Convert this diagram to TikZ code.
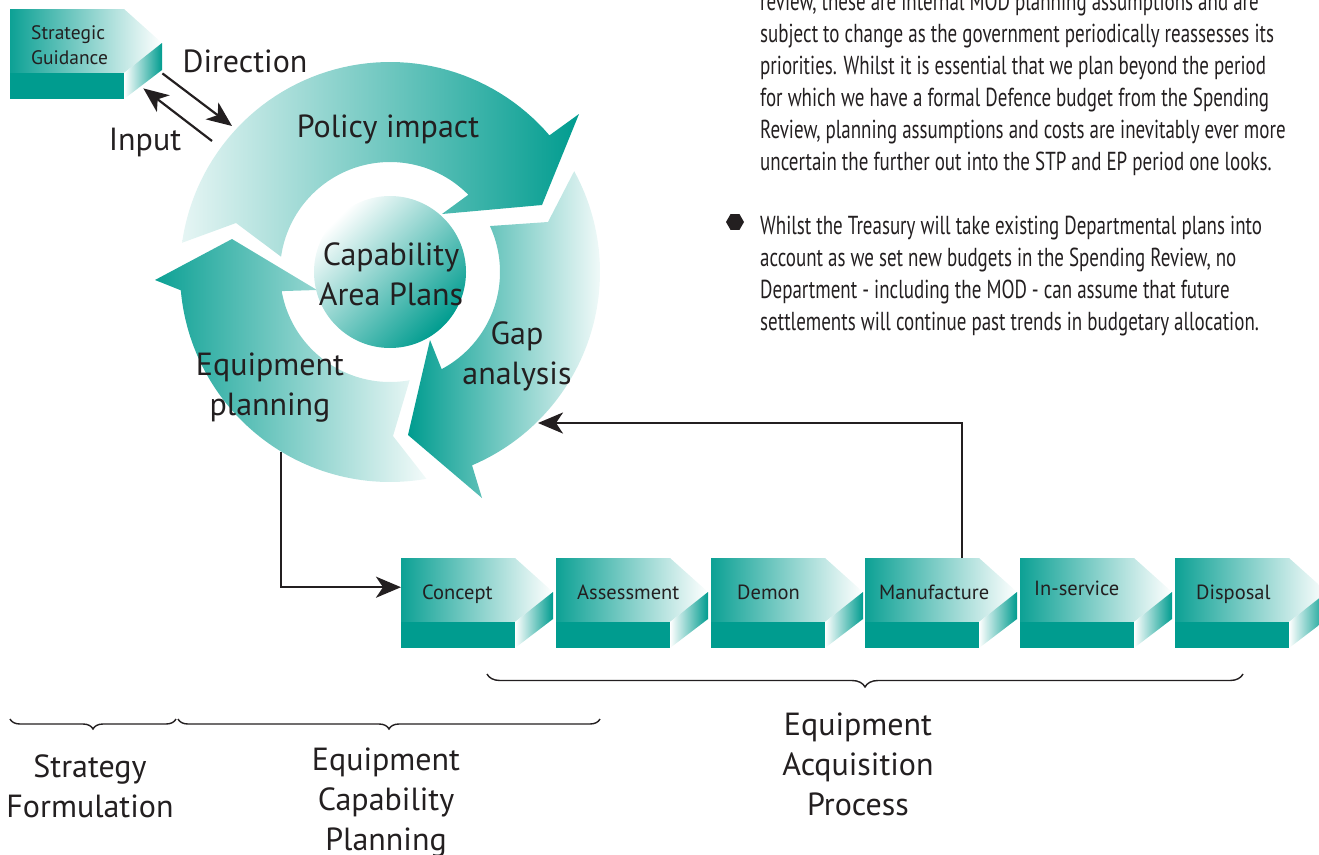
\documentclass[tikz,border=0pt]{standalone}
\usepackage{fontspec}
\setmainfont{PT Sans}
\newfontfamily\bodyfont[FakeStretch=0.73]{PT Sans}
\usetikzlibrary{arrows.meta, calc, shapes.geometric, decorations.pathreplacing}

\definecolor{modteal}{RGB}{0,156,143}
\definecolor{inkgrey}{RGB}{35,31,32}

\tikzset{
  flow/.style={line width=2.4pt, draw=inkgrey, -{Stealth[length=25pt,width=21pt,inset=7pt]}},
  biglabel/.style={font=\fontsize{32}{40}\selectfont, align=center, text=inkgrey, inner sep=0pt},
  stagelabel/.style={font=\fontsize{20.5}{24}\selectfont, anchor=base west, text=inkgrey, inner sep=0pt},
  bodytext/.style={font=\bodyfont\fontsize{26}{32}\selectfont, align=left, text=inkgrey, inner sep=0pt, anchor=base west},
  bracket/.style={draw=inkgrey, line width=1.4pt, decorate, decoration={brace, mirror, amplitude=#1}},
}

% chevron box: name, x, y of top left corner
\newcommand{\chevbox}[3]{%
  \shade[left color=modteal!95, right color=white] (#2,#3) -- ++(114,0) -- ++(38,34) -- ++(-38,30) -- ++(-114,0) -- cycle;
  \fill[modteal] (#2,#3+64) rectangle ++(114,26);
  \shade[left color=white, right color=modteal] (#2+114,#3+64) -- ++(38,-30) -- ++(0,27) -- ++(-38,29) -- cycle;
  \node[minimum width=152pt, minimum height=90pt, anchor=north west, inner sep=0pt] (#1) at (#2,#3) {};
}

\begin{document}
\begin{tikzpicture}[x=1pt, y=-1pt]
    \clip (0,0) rectangle (1319,854);

    % Policy impact arrow
    \shade[left color=modteal!10, right color=modteal]
      plot[domain=-172:-40.6, samples=60] ({390+210*cos(\x)},{272+210*sin(\x)})
      -- (579,114) -- (542,205) -- (442,214)
      -- plot[domain=-44.6:-172, samples=60] ({390+110*cos(\x)},{272+110*sin(\x)})
      -- (236,223) -- cycle;

    % Gap analysis arrow
    \shade[left color=modteal, right color=modteal!6]
      plot[domain=-28.7:67, samples=60] ({390+210*cos(\x)},{272+210*sin(\x)})
      -- (482,498) -- (408,435) -- (430,340)
      -- plot[domain=62:-24.7, samples=60] ({390+110*cos(\x)},{272+110*sin(\x)})
      -- (548,222) -- cycle;

    % Equipment planning arrow
    \shade[left color=modteal!95, right color=modteal!5]
      plot[domain=80:175, samples=60] ({390+210*cos(\x)},{272+210*sin(\x)})
      -- (155,280) -- (232,239) -- (317,290)
      -- plot[domain=170:79.7, samples=60] ({390+110*cos(\x)},{272+110*sin(\x)})
      -- (393,436) -- cycle;

    % Centre disc
    \shade[top color=white, bottom color=modteal, shading angle=45] (390,272) circle[radius=76];

    % Ring labels
    \node[biglabel] (cap) at (391,274) {Capability\\Area Plans};
    \node[biglabel, anchor=base] (policy) at (388,137) {Policy impact};
    \node[biglabel] (gap) at (517,356) {Gap\\analysis};
    \node[biglabel] (equip) at (270,388) {Equipment\\planning};

    % Strategic guidance box
    \chevbox{sg}{10}{9}
    \node[font=\fontsize{19.5}{25}\selectfont, align=left, anchor=west, text=inkgrey, inner sep=0pt] (sg-t) at (31,45) {Strategic\\Guidance};
    \node[biglabel, anchor=base] (direction) at (245,72) {Direction};
    \node[biglabel, anchor=base] (input) at (145,150) {Input};
    \coordinate (ringtop) at (232,126);
    \coordinate (ringleft) at (212,141);
    \draw[flow, line width=2.2pt] ([yshift=26pt]sg.south east) -- (ringtop);
    \draw[flow, line width=2.2pt] (ringleft) -- ([shift={(-19pt,11pt)}]sg.south east);

    % Acquisition stages
    \chevbox{concept}{401}{558}
    \chevbox{assess}{556}{558}
    \chevbox{demon}{711}{558}
    \chevbox{manu}{865}{558}
    \chevbox{inserv}{1020}{558}
    \chevbox{dispo}{1175}{558}
    \node[stagelabel] (concept-t) at (422,599) {Concept};
    \node[stagelabel] (assess-t) at (577,599) {Assessment};
    \node[stagelabel] (demon-t) at (737,599) {Demon};
    \node[stagelabel] (manu-t) at (879,599) {Manufacture};
    \node[stagelabel] (inserv-t) at (1034,595) {In-service};
    \node[stagelabel] (dispo-t) at (1196,599) {Disposal};

    % Links between the cycle and the stages
    \coordinate (eqfoot) at (281,452);
    \coordinate (gapedge) at (538,423);
    \draw[flow] (eqfoot) |- ([yshift=16pt]concept.west);
    \draw[flow] ([xshift=21pt]manu.north) |- (gapedge);

    % Braces and phase names
    \draw[bracket=13pt] (487,674) -- (1243,674);
    \draw[bracket=10pt] (10,719) -- (176,719);
    \draw[bracket=10pt] (178,719) -- (600,719);
    \node[biglabel] (strat) at (90,786) {Strategy\\Formulation};
    \node[biglabel] (ecp) at (386,803) {Equipment\\Capability\\Planning};
    \node[biglabel] (eap) at (858,764) {Equipment\\Acquisition\\Process};

    % Notes on the right
    \node[bodytext] (para1) at (760,170) {review, these are internal MOD planning assumptions and are\\subject to change as the government periodically reassesses its\\priorities. Whilst it is essential that we plan beyond the period\\for which we have a formal Defence budget from the Spending\\Review, planning assumptions and costs are inevitably ever more\\uncertain the further out into the STP and EP period one looks.};
    \node[bodytext] (para2) at (760,330) {Whilst the Treasury will take existing Departmental plans into\\account as we set new budgets in the Spending Review, no\\Department - including the MOD - can assume that future\\settlements will continue past trends in budgetary allocation.};
    \node[regular polygon, regular polygon sides=6, fill=inkgrey, minimum size=18pt, inner sep=0pt] (bullet) at (735,222) {};
\end{tikzpicture}
\end{document}
